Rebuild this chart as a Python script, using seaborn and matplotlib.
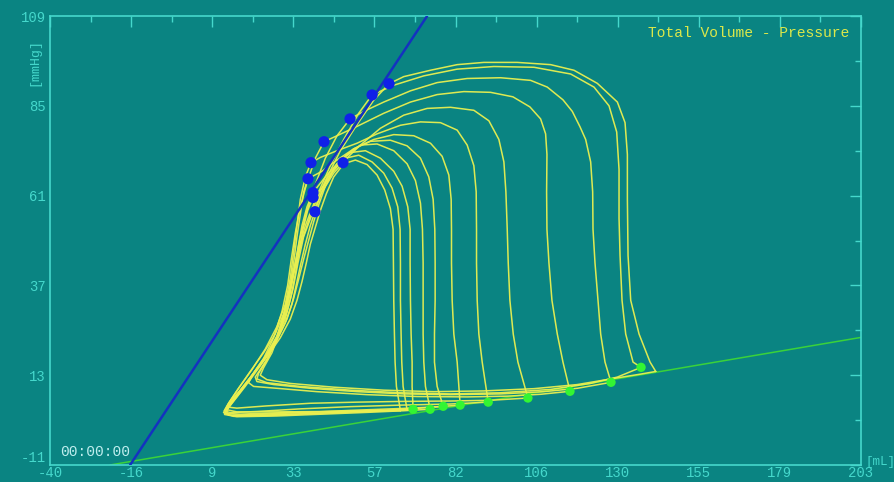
import numpy as np
import matplotlib
matplotlib.use('Agg')
import matplotlib.pyplot as plt
import seaborn as sns

# x / y axis ticks
x_ticks = [-40, -15.7, 8.6, 32.9, 57.2, 81.5, 105.8, 130.1, 154.4, 178.7, 203]
x_labels = ['-40', '-16', '9', '33', '57', '82', '106', '130', '155', '179', '203']
y_ticks = [-11, 13, 37, 61, 85, 109]
y_labels = ['-11', '13', '37', '61', '85', '109']

# ESPVR (blue) and EDPVR (green) end points
espvr_vol = [-16, 73]
espvr_prs = [-11, 109]
edpvr_vol = [-22, 203]
edpvr_prs = [-11, 23.1]

# end-systolic / end-diastolic points
es_vol = [61.6, 56.5, 49.9, 42.1, 47.8, 38.2, 37.3, 38.8, 38.8, 39.4]
es_prs = [90.9, 87.9, 81.5, 75.4, 69.8, 69.8, 65.5, 61.8, 60.5, 56.7]
ed_vol = [68.8, 73.9, 77.8, 82.9, 91.3, 103.2, 115.8, 128.1, 137.1]
ed_prs = [3.9, 3.9, 4.7, 5.0, 5.8, 6.9, 8.7, 11.1, 15.1]

# PV loops (volume mL, pressure mmHg), largest first
loop_01 = [(141.5, 14.0), (139.8, 16.5), (136.5, 24), (134.0, 33), (133.2, 45), (133.0, 60),
           (133.0, 72), (132.3, 80.5), (130.0, 86), (124.0, 91), (117.0, 94.5), (110.0, 96),
           (100.0, 96.6), (90.0, 96.6), (82.0, 96), (74.0, 94.5), (66.0, 92.8), (61.6, 90.9),
           (57.0, 86.5), (52.0, 80), (47.0, 73), (42.5, 65), (38.5, 57), (35.5, 49), (33.0, 40),
           (31.0, 32), (29.0, 25), (26.5, 19), (24.0, 15), (23.0, 13), (25.0, 11.8), (32.0, 10.8),
           (45.0, 9.8), (60.0, 9.0), (75.0, 8.6), (90.0, 8.8), (105.0, 9.4), (118.0, 10.5),
           (128.0, 12.0), (137.0, 13.3), (141.5, 14.0)]
loop_02 = [(137.1, 15.1), (134.7, 16.5), (132.5, 24), (131.4, 33), (130.8, 45), (130.5, 55),
           (130.5, 68), (129.8, 78), (127.5, 85), (123.0, 90), (116.0, 93.5), (105.0, 95.3),
           (93.0, 95.5), (82.0, 94.8), (72.0, 93), (63.0, 90.5), (56.5, 87.9), (52.5, 83),
           (48.0, 76), (44.0, 69), (40.0, 61), (36.5, 53), (34.0, 45), (32.0, 37), (30.0, 29),
           (27.5, 22), (25.0, 17), (22.5, 13.5), (22.0, 12), (25.0, 11), (35.0, 10), (50.0, 9),
           (65.0, 8.3), (80.0, 8), (95.0, 8.3), (110.0, 9.2), (122.0, 10.8), (130.0, 12.5),
           (137.1, 15.1)]
loop_03 = [(128.1, 11.1), (126.3, 16.5), (125.0, 24), (124.2, 33), (123.3, 43), (122.7, 52),
           (122.6, 62), (122.0, 70), (120.5, 76), (118.8, 79.4), (116.5, 83.5), (113.7, 86.6),
           (109.0, 90), (104.0, 91.8), (95.0, 92.5), (85.0, 92.3), (76.0, 91.2), (68.0, 89),
           (60.0, 86), (54.0, 83.5), (49.9, 81.5), (46.0, 77), (42.5, 71), (39.5, 64), (37.0, 57),
           (35.0, 50), (33.5, 43), (32.0, 36), (30.0, 29), (28.0, 23), (25.5, 18), (23.0, 14.5),
           (21.5, 12.5), (22.0, 11.3), (27.0, 10.5), (38.0, 9.5), (52.0, 8.6), (66.0, 8),
           (80.0, 7.8), (95.0, 8), (108.0, 8.6), (118.0, 9.5), (128.1, 11.1)]
loop_04 = [(115.8, 8.7), (113.7, 16.5), (112.0, 24), (110.4, 33), (109.5, 43), (108.9, 52),
           (108.8, 62), (108.9, 72), (108.5, 77.5), (107.0, 81.5), (103.8, 84.7), (98.7, 87.4),
           (92.0, 88.6), (84.0, 88.8), (76.0, 88), (68.0, 86), (60.0, 83), (52.0, 79.5),
           (46.0, 77), (42.1, 75.4), (39.5, 71), (37.0, 64.5), (35.0, 58), (33.5, 51), (32.3, 44),
           (31.2, 37), (29.5, 30), (27.0, 23), (24.0, 17.5), (21.0, 13.5), (19.5, 11), (21.0, 10),
           (28.0, 9.5), (40.0, 8.6), (55.0, 7.8), (70.0, 7.3), (85.0, 7.2), (97.0, 7.4),
           (107.0, 7.9), (115.8, 8.7)]
loop_05 = [(103.2, 6.9), (100.2, 16.5), (98.8, 24), (97.8, 33), (97.3, 43), (97.0, 52),
           (96.6, 62), (96.0, 70), (94.5, 76), (91.5, 81), (87.0, 83.8), (80.0, 84.6), (73.0, 84.3),
           (66.0, 82.5), (59.0, 79), (53.0, 74.5), (49.5, 71.5), (47.8, 69.8), (45.0, 67),
           (41.5, 62), (38.5, 56), (36.0, 50), (34.3, 43), (32.8, 36), (31.0, 30), (28.5, 24),
           (25.0, 18.5), (21.0, 13.5), (17.0, 9), (14.0, 6), (13.0, 4.5), (16.0, 4.2), (25.0, 4.8),
           (38.0, 5.5), (52.0, 5.8), (66.0, 6), (80.0, 6.1), (92.0, 6.3), (103.2, 6.9)]
loop_06 = [(91.3, 5.8), (89.5, 16.5), (88.5, 24), (88.0, 33), (87.8, 43), (87.8, 52),
           (87.7, 62), (87.0, 69), (85.0, 74.5), (82.0, 78.5), (77.0, 80.5), (71.0, 80.7),
           (65.0, 79.8), (58.0, 77.5), (52.0, 75), (46.0, 73), (41.0, 71.2), (38.2, 69.8),
           (36.5, 66), (35.0, 60), (34.0, 53), (33.0, 46), (32.0, 39), (30.5, 32), (28.0, 26),
           (24.5, 20), (20.5, 14.5), (16.5, 9.5), (13.5, 5.5), (12.2, 3.5), (14.0, 3), (22.0, 3.3),
           (35.0, 4), (50.0, 4.6), (65.0, 5), (80.0, 5.3), (91.3, 5.8)]
loop_07 = [(82.9, 5.0), (82.0, 16.5), (81.0, 24), (80.5, 33), (80.3, 43), (80.3, 52),
           (80.2, 60), (79.5, 66.5), (77.5, 71.5), (74.0, 75), (69.0, 77), (63.0, 77.3),
           (57.0, 76), (51.0, 73.5), (46.0, 70.5), (41.5, 67.5), (37.3, 65.5), (36.0, 62),
           (35.0, 56), (34.0, 50), (33.0, 43), (31.8, 36), (30.0, 29.5), (27.5, 24), (24.0, 19),
           (20.0, 14), (16.5, 9.5), (13.5, 5.5), (12.0, 3), (14.0, 2.3), (22.0, 2.5), (35.0, 3),
           (50.0, 3.6), (65.0, 4.1), (75.0, 4.5), (82.9, 5.0)]
loop_08 = [(77.8, 4.7), (76.0, 10), (75.2, 16.5), (75.2, 24), (75.4, 33), (75.4, 43),
           (75.3, 52), (74.8, 60), (73.5, 66), (71.0, 71), (67.0, 74.3), (62.0, 75.8), (56.0, 75.5),
           (51.0, 73.5), (46.5, 70), (42.5, 66), (38.8, 61.8), (37.0, 58), (35.5, 53), (34.3, 47),
           (33.2, 41), (32.0, 35), (30.5, 29), (28.0, 23.5), (24.5, 18), (20.5, 13), (17.0, 8.5),
           (14.0, 5), (12.5, 2.8), (15.0, 2), (25.0, 2.2), (40.0, 2.8), (55.0, 3.4), (68.0, 4),
           (77.8, 4.7)]
loop_09 = [(73.9, 3.9), (72.5, 10), (72.0, 16.5), (71.8, 24), (71.8, 33), (71.8, 43),
           (71.6, 52), (71.0, 59), (69.5, 65), (67.0, 69.5), (63.0, 73), (58.0, 74.8), (53.0, 74.5),
           (48.5, 71.5), (44.5, 67), (41.5, 63), (38.8, 60.5), (37.2, 57), (35.8, 52), (34.6, 46),
           (33.5, 40), (32.2, 34), (30.5, 28), (27.5, 22), (23.5, 16.5), (19.0, 11), (15.5, 7),
           (13.0, 4), (12.3, 2.5), (16.0, 1.9), (28.0, 2.1), (42.0, 2.6), (56.0, 3.1), (66.0, 3.5),
           (73.9, 3.9)]
loop_10 = [(68.8, 3.9), (68.5, 10), (68.5, 16.5), (68.2, 24), (68.0, 33), (67.9, 43),
           (67.9, 52), (67.2, 58), (65.5, 63.5), (63.0, 67.5), (59.0, 71), (54.5, 73), (50.0, 72.5),
           (46.0, 69.5), (43.0, 65.5), (41.0, 61), (39.4, 56.7), (38.0, 53), (36.5, 48), (35.2, 43),
           (34.0, 38), (32.5, 32), (30.5, 27), (27.5, 21.5), (23.0, 15.5), (18.5, 10), (15.0, 6),
           (12.8, 3.5), (13.5, 2.3), (20.0, 2.2), (32.0, 2.6), (45.0, 3), (58.0, 3.4), (68.8, 3.9)]
loop_11 = [(67.0, 3.7), (65.8, 10), (65.4, 16.5), (65.2, 24), (65.0, 33), (65.0, 43),
           (64.9, 52), (64.2, 58), (62.5, 63), (60.0, 67), (56.5, 70), (52.5, 71.8), (48.5, 71),
           (45.0, 68), (42.5, 63.5), (40.5, 58.5), (39.0, 54), (37.5, 49), (36.0, 44), (34.6, 39),
           (33.0, 33.5), (31.0, 28), (28.0, 22.5), (24.0, 17), (19.5, 11.5), (15.5, 7), (13.0, 4),
           (12.5, 2.8), (17.0, 2.6), (30.0, 3), (45.0, 3.3), (57.0, 3.5), (67.0, 3.7)]
loop_12 = [(65.0, 3.5), (63.8, 10), (63.4, 16.5), (63.2, 24), (63.0, 33), (62.9, 43),
           (62.8, 52), (62.0, 57.5), (60.3, 62.5), (58.0, 66.5), (55.0, 69.3), (51.5, 70.5),
           (48.0, 69.5), (45.0, 66), (42.8, 61.5), (41.0, 57), (39.5, 52.5), (38.0, 48), (36.8, 43),
           (35.5, 38), (34.0, 33), (32.0, 28), (29.0, 23), (25.5, 18.5), (21.0, 13.5), (17.0, 9),
           (14.0, 5.5), (12.8, 3.8), (16.0, 3.2), (28.0, 3.2), (42.0, 3.3), (55.0, 3.4), (65.0, 3.5)]

loops = [loop_01, loop_02, loop_03, loop_04, loop_05, loop_06,
         loop_07, loop_08, loop_09, loop_10, loop_11, loop_12]

BG = '#0a8482'
CYAN = '#45d8cc'
LOOP = '#eaf050'

sns.set_theme(style='white')
plt.rcParams['font.family'] = ['Liberation Mono', 'DejaVu Sans Mono']

fig = plt.figure(figsize=(8.94, 4.82), dpi=100, facecolor=BG)
ax = fig.add_axes([50 / 894, 17 / 482, 811 / 894, 449 / 482])
ax.set_facecolor(BG)

# pressure-volume relations
sns.lineplot(x=edpvr_vol, y=edpvr_prs, ax=ax, color='#3ad23a', lw=1.1, zorder=2)
sns.lineplot(x=espvr_vol, y=espvr_prs, ax=ax, color='#1432c0', lw=1.8, zorder=4)

# loops
for lp in loops:
    v = [q[0] for q in lp]
    p = [q[1] for q in lp]
    ax.plot(v, p, color=LOOP, lw=1.1, alpha=0.95, zorder=3)

sns.scatterplot(x=ed_vol, y=ed_prs, ax=ax, color='#33f533', s=45, edgecolor='none', zorder=5)
sns.scatterplot(x=es_vol, y=es_prs, ax=ax, color='#1020e8', s=65, edgecolor='none', zorder=5)

ax.set_xlim(-40, 203)
ax.set_ylim(-11, 109)

ax.set_xticks(x_ticks)
ax.set_xticklabels(x_labels)
ax.set_yticks(y_ticks)
ax.set_yticklabels(y_labels)
ax.set_xticks([(a + b) / 2 for a, b in zip(x_ticks[:-1], x_ticks[1:])], minor=True)
ax.set_yticks([(a + b) / 2 for a, b in zip(y_ticks[:-1], y_ticks[1:])], minor=True)

ax.tick_params(which='major', direction='in', length=8, width=1, color=CYAN,
               labelcolor=CYAN, labelsize=10, top=True, right=True)
ax.tick_params(axis='x', which='major', pad=1)
ax.tick_params(axis='y', which='major', pad=3)
ax.tick_params(which='minor', direction='in', length=4, width=1, color=CYAN,
               top=True, right=True)
# lowest y label sits a little above the corner, as in the source
ax.get_yticklabels()[0].set_verticalalignment('bottom')
for s in ax.spines.values():
    s.set_color(CYAN)
    s.set_linewidth(1.2)
    s.set_visible(True)

ax.set_xlabel('')
ax.set_ylabel('')
ax.text(0.986, 0.962, 'Total Volume - Pressure', transform=ax.transAxes, ha='right',
        va='center', color='#dce84a', fontsize=10.5)
ax.text(0.012, 0.03, '00:00:00', transform=ax.transAxes, ha='left', va='center',
        color='#bfeeee', fontsize=10.5)
fig.text(34 / 894, 1 - 62 / 482, '[mmHg]', rotation=90, ha='center', va='center',
         color=CYAN, fontsize=9.5)
fig.text(865 / 894, 1 - 462 / 482, '[mL]', ha='left', va='center', color=CYAN, fontsize=9)

fig.savefig('out.png', dpi=100, facecolor=BG)
plt.close(fig)
